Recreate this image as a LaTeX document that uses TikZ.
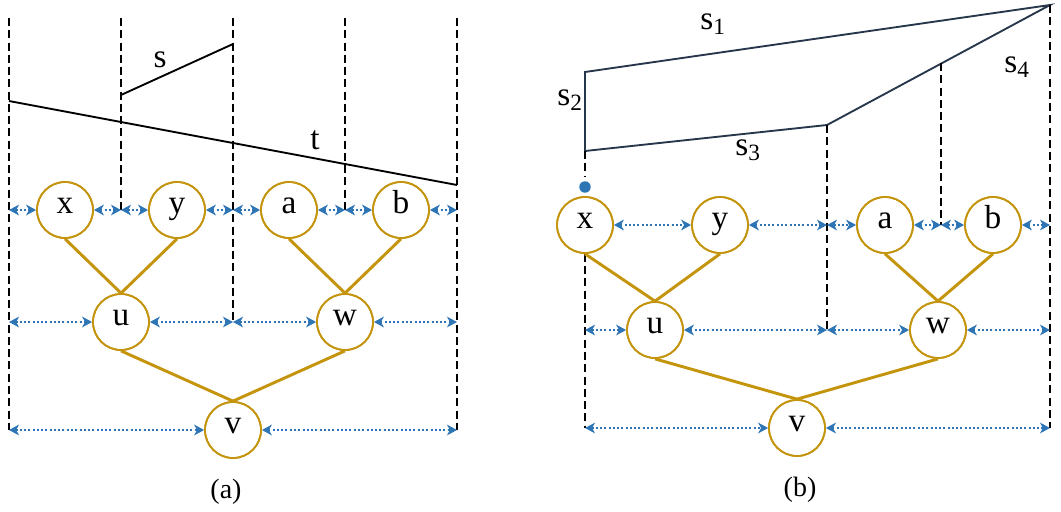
\documentclass[tikz,border=0pt]{standalone}
\usepackage{fontspec}
\setmainfont{Liberation Serif}
\usetikzlibrary{arrows.meta}
\definecolor{gold}{RGB}{196,148,12}
\definecolor{arrblue}{RGB}{46,117,182}
\definecolor{slate}{RGB}{38,55,75}
\tikzset{
 vnode/.style={circle,draw=gold,line width=1.3pt,minimum size=42pt,inner sep=0pt,fill=white,
   font=\fontsize{25}{27}\selectfont,text height=1ex,text depth=0pt},
 tedge/.style={draw=gold,line width=2.2pt},
 guide/.style={line width=1.5pt,dash pattern=on 6pt off 3.2pt},
 dist/.style={draw=arrblue,line width=1.5pt,dash pattern=on 1.5pt off 1.7pt,
   {Stealth[length=7.5pt,width=8pt,inset=2.2pt]}-{Stealth[length=7.5pt,width=8pt,inset=2.2pt]}},
 seg/.style={line width=1.4pt},
 lbl/.style={font=\fontsize{25}{27}\selectfont},
 captext/.style={font=\fontsize{21}{23}\selectfont},
}
\begin{document}
\begin{tikzpicture}[x=0.75pt,y=-0.75pt]
\useasboundingbox (0,0) rectangle (1061,511);
% ---------------- panel (a) ----------------
\coordinate (a0t) at (9,18);   \coordinate (a0b) at (9,430);
\coordinate (a1t) at (121,18); \coordinate (a1b) at (121,210);
\coordinate (a2t) at (233,18); \coordinate (a2b) at (233,322);
\coordinate (a3t) at (345,18); \coordinate (a3b) at (345,210);
\coordinate (a4t) at (457,18); \coordinate (a4b) at (457,430);
\draw[guide] (a0t) -- (a0b);
\draw[guide] (a1t) -- (a1b);
\draw[guide] (a2t) -- (a2b);
\draw[guide] (a3t) -- (a3b);
\draw[guide] (a4t) -- (a4b);
% segments
\coordinate (tA) at (9,101); \coordinate (tB) at (457,185);
\coordinate (sA) at (121,95); \coordinate (sB) at (233,44);
\draw[seg] (tA) -- (tB);
\draw[seg] (sA) -- (sB);
\node[lbl] (lt) at (315,140) {t};
\node[lbl] (ls) at (160,60) {s};
% nodes
\node[vnode] (ax) at (65,210) {x};
\node[vnode] (ay) at (177,210) {y};
\node[vnode] (aa) at (289,210) {a};
\node[vnode] (ab) at (401,210) {b};
\node[vnode] (au) at (121,322) {u};
\node[vnode] (aw) at (345,322) {w};
\node[vnode] (av) at (233,430) {v};
\draw[tedge] (ax.south) -- (au.north);
\draw[tedge] (ay.south) -- (au.north);
\draw[tedge] (aa.south) -- (aw.north);
\draw[tedge] (ab.south) -- (aw.north);
\draw[tedge] (au.south) -- (av.north);
\draw[tedge] (aw.south) -- (av.north);
% redraw circles on top
\foreach \n in {ax,ay,aa,ab,au,aw,av}{\draw[gold,line width=1.3pt] (\n.center) circle (21pt);}
% distance arrows
\coordinate (ar1a) at (9,210); \coordinate (ar1b) at (121,210); \coordinate (ar1c) at (233,210);
\coordinate (ar1d) at (345,210); \coordinate (ar1e) at (457,210);
\draw[dist] (ar1a) -- (ax.west);
\draw[dist] (ax.east) -- (ar1b);
\draw[dist] (ar1b) -- (ay.west);
\draw[dist] (ay.east) -- (ar1c);
\draw[dist] (ar1c) -- (aa.west);
\draw[dist] (aa.east) -- (ar1d);
\draw[dist] (ar1d) -- (ab.west);
\draw[dist] (ab.east) -- (ar1e);
\coordinate (ar2a) at (9,322); \coordinate (ar2b) at (233,322); \coordinate (ar2c) at (457,322);
\draw[dist] (ar2a) -- (au.west);
\draw[dist] (au.east) -- (ar2b);
\draw[dist] (ar2b) -- (aw.west);
\draw[dist] (aw.east) -- (ar2c);
\coordinate (ar3a) at (9,430); \coordinate (ar3b) at (457,430);
\draw[dist] (ar3a) -- (av.west);
\draw[dist] (av.east) -- (ar3b);
\node[captext] (capa) at (226,492) {(a)};
% ---------------- panel (b) ----------------
\coordinate (p1) at (585,72);
\coordinate (p2) at (1050,5);
\coordinate (p3) at (827,125);
\coordinate (p4) at (585,151);
\coordinate (p5) at (941,63);
\draw[seg,slate,line join=miter] (p4) -- (p1) -- (p2) -- (p3) -- cycle;
\node[lbl] (s1) at (713,24) {s\textsubscript{1}};
\node[lbl] (s2) at (570,100) {s\textsubscript{2}};
\node[lbl] (s3) at (748,150) {s\textsubscript{3}};
\node[lbl] (s4) at (1017,67) {s\textsubscript{4}};
\node[vnode] (bx) at (585,225) {x};
\node[vnode] (by) at (720,225) {y};
\node[vnode] (ba) at (885,225) {a};
\node[vnode] (bb) at (993,225) {b};
\node[vnode] (bu) at (655,330) {u};
\node[vnode] (bw) at (938,330) {w};
\node[vnode] (bv) at (797,428) {v};
\coordinate (dotc) at (585,187);
\coordinate (q1) at (585,176);
\coordinate (q2) at (585,428);
\coordinate (q3) at (827,330);
\coordinate (q4) at (941,225);
\coordinate (q5) at (1050,428);
\draw[guide] (p4) -- (q1);
\fill[arrblue] (dotc) circle (4.3pt);
\draw[guide] (bx.south) -- (q2);
\draw[guide] (p3) -- (q3);
\draw[guide] (p5) -- (q4);
\draw[guide] (p2) -- (q5);
\draw[tedge] (bx.south) -- (bu.north);
\draw[tedge] (by.south) -- (bu.north);
\draw[tedge] (ba.south) -- (bw.north);
\draw[tedge] (bb.south) -- (bw.north);
\draw[tedge] (bu.south) -- (bv.north);
\draw[tedge] (bw.south) -- (bv.north);
\foreach \n in {bx,by,ba,bb,bu,bw,bv}{\draw[gold,line width=1.3pt] (\n.center) circle (21pt);}
\coordinate (br1a) at (827,225); \coordinate (br1b) at (941,225); \coordinate (br1c) at (1050,225);
\draw[dist] (bx.east) -- (by.west);
\draw[dist] (by.east) -- (br1a);
\draw[dist] (br1a) -- (ba.west);
\draw[dist] (ba.east) -- (br1b);
\draw[dist] (br1b) -- (bb.west);
\draw[dist] (bb.east) -- (br1c);
\coordinate (br2a) at (585,330); \coordinate (br2b) at (827,330); \coordinate (br2c) at (1050,330);
\draw[dist] (br2a) -- (bu.west);
\draw[dist] (bu.east) -- (br2b);
\draw[dist] (br2b) -- (bw.west);
\draw[dist] (bw.east) -- (br2c);
\coordinate (br3a) at (585,428); \coordinate (br3b) at (1050,428);
\draw[dist] (br3a) -- (bv.west);
\draw[dist] (bv.east) -- (br3b);
\node[captext] (capb) at (800,490) {(b)};
\end{tikzpicture}
\end{document}
